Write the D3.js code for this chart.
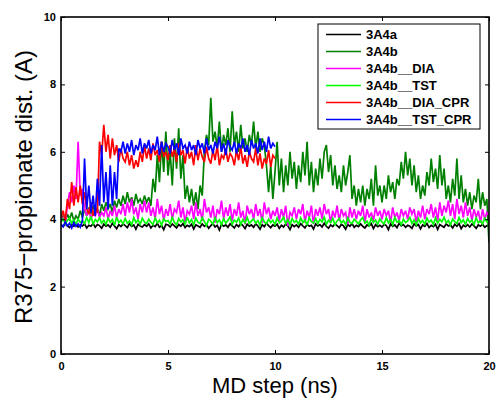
<!DOCTYPE html>
<html>
<head>
<meta charset="utf-8">
<script src="https://cdn.jsdelivr.net/npm/d3@7"></script>
<style>
  body { margin: 0; background: #fff; }
  text { font-family: "Liberation Sans", Arial, sans-serif; }
</style>
</head>
<body>
<div id="chart"></div>
<script>
// sampling of every series along the x axis (ns)
var step = 0.1;

var seriesNames = ['3A4a', '3A4b', '3A4b__DIA', '3A4b__TST', '3A4b__DIA_CPR', '3A4b__TST_CPR'];
var seriesColors = ['#000000', '#008000', '#ff00ff', '#00ff00', '#ff0000', '#0000ff'];

var xTicks = [0, 5, 10, 15, 20];
var yTicks = [0, 2, 4, 6, 8, 10];

var black3A4a = [
  3.82,3.78,3.86,3.80,3.75,3.84,3.79,3.88,3.77,3.83,
  3.80,3.86,3.74,3.82,3.79,3.87,3.76,3.84,3.81,3.73,
  3.85,3.79,3.83,3.76,3.88,3.80,3.72,3.84,3.78,3.86,
  3.81,3.75,3.87,3.79,3.83,3.70,3.85,3.80,3.77,3.84,
  3.79,3.86,3.74,3.82,3.78,3.88,3.76,3.81,3.69,3.85,
  3.83,3.77,3.86,3.80,3.74,3.84,3.79,3.87,3.75,3.82,
  3.78,3.85,3.71,3.83,3.80,3.76,3.86,3.79,3.84,3.73,
  3.81,3.87,3.77,3.82,3.68,3.85,3.79,3.83,3.76,3.86,
  3.80,3.74,3.84,3.78,3.87,3.81,3.72,3.85,3.79,3.83,
  3.76,3.86,3.80,3.70,3.84,3.78,3.88,3.81,3.75,3.83,
  3.79,3.85,3.73,3.82,3.77,3.86,3.80,3.69,3.84,3.78,
  3.83,3.76,3.87,3.80,3.74,3.85,3.79,3.82,3.71,3.86,
  3.80,3.84,3.77,3.88,3.79,3.73,3.83,3.78,3.86,3.81,
  3.75,3.85,3.80,3.70,3.84,3.79,3.87,3.76,3.82,3.78,
  3.86,3.79,3.74,3.83,3.80,3.87,3.72,3.84,3.78,3.82,
  3.77,3.85,3.81,3.69,3.86,3.79,3.83,3.75,3.88,3.80,
  3.84,3.76,3.82,3.79,3.73,3.86,3.80,3.84,3.71,3.83,
  3.79,3.87,3.75,3.82,3.78,3.85,3.70,3.84,3.80,3.76,
  3.86,3.80,3.83,3.74,3.85,3.79,3.87,3.72,3.82,3.78,
  3.84,3.77,3.86,3.80,3.73,3.83,3.79,3.85,3.76,3.81,
  3.80
];

var green3A4b = [
  3.95,4.10,3.90,4.15,4.00,4.20,3.95,4.10,4.00,4.25,
  4.05,4.30,4.10,4.35,4.15,4.40,4.20,4.30,4.10,4.45,
  4.25,4.50,4.30,4.45,4.20,4.55,4.35,4.60,4.40,4.70,
  4.45,4.80,4.50,4.65,4.40,4.75,4.50,4.60,4.45,4.70,
  4.50,4.65,4.40,5.20,4.80,5.90,5.10,6.30,5.40,6.60,
  5.30,6.00,5.00,6.40,5.50,6.70,5.20,5.90,4.60,5.00,
  4.50,4.90,4.40,4.80,4.30,5.00,4.70,6.00,6.50,6.20,
  7.60,6.30,6.60,6.10,6.90,6.00,6.50,6.20,6.70,6.00,
  7.20,6.20,6.60,6.00,6.80,6.10,6.40,6.00,6.50,6.20,
  6.90,6.10,6.60,6.00,6.40,6.20,5.60,4.80,5.60,4.60,
  5.40,6.30,5.00,5.80,4.80,5.60,5.00,6.00,5.20,5.70,
  4.90,5.60,5.10,6.00,5.30,6.30,5.00,5.70,4.80,5.50,
  5.00,5.80,5.20,6.00,6.20,5.40,5.90,5.00,5.60,4.90,
  5.30,4.80,5.60,5.00,5.40,5.90,4.60,5.00,4.40,4.90,
  4.50,5.00,4.40,4.90,4.60,5.20,4.40,5.60,4.70,5.00,
  4.50,5.00,4.60,5.30,4.80,5.10,4.60,5.20,5.00,5.70,
  5.20,6.00,5.30,5.80,5.00,5.60,4.80,5.30,4.60,5.00,
  4.70,5.40,5.00,5.80,5.10,5.50,4.90,5.90,5.00,5.50,
  4.60,5.00,4.50,5.20,4.70,5.80,4.60,5.30,4.50,4.90,
  4.40,4.80,4.30,4.70,4.50,5.20,4.30,4.80,4.40,4.60,
  3.30
];

var magentaDIA = [
  3.95,4.05,3.90,4.40,4.80,4.50,5.00,4.60,6.30,4.70,
  4.90,4.30,4.10,4.30,4.00,4.20,4.10,4.30,4.05,4.20,
  4.10,4.35,4.00,4.25,4.10,4.40,4.05,4.30,4.15,4.45,
  4.10,4.50,4.20,4.60,4.15,4.35,4.00,4.45,4.20,4.55,
  4.20,4.50,4.10,4.35,4.00,4.60,4.15,4.40,3.95,4.30,
  4.10,4.45,4.00,4.30,4.20,4.55,4.05,4.35,3.90,4.25,
  4.15,4.40,4.00,4.50,4.10,4.30,3.95,4.60,4.20,4.35,
  4.05,4.40,3.90,4.30,4.15,4.55,4.00,4.35,4.10,4.45,
  3.95,4.30,4.10,4.50,4.05,4.25,3.85,4.40,4.15,4.30,
  4.00,4.45,4.10,4.30,3.90,4.50,4.15,4.35,4.00,4.25,
  4.10,4.35,3.95,4.30,4.05,4.40,3.80,4.20,4.10,4.35,
  4.00,4.30,4.15,4.45,3.90,4.25,4.05,4.40,3.85,4.30,
  4.10,4.35,4.00,4.45,4.15,4.30,3.90,4.25,4.05,4.40,
  3.95,4.30,4.10,4.20,3.85,4.35,4.05,4.30,4.00,4.25,
  4.10,4.40,3.90,4.30,4.05,4.20,3.95,4.35,4.10,4.25,
  4.00,4.30,4.10,4.25,3.90,4.35,4.05,4.20,3.95,4.30,
  4.10,4.25,4.00,4.35,4.15,4.30,3.90,4.25,4.05,4.40,
  4.00,4.30,4.15,4.45,4.05,4.35,3.95,4.50,4.10,4.40,
  4.20,4.55,4.10,4.45,4.00,4.60,4.15,4.40,4.05,4.50,
  4.10,4.35,3.95,4.30,4.05,4.25,3.90,4.30,4.00,4.20,
  4.10
];

var limeTST = [
  3.92,4.01,3.86,3.96,4.03,3.88,3.98,3.85,4.00,3.91,
  3.95,3.87,4.05,3.90,4.08,3.86,3.99,3.92,4.04,3.88,
  3.97,3.84,4.03,3.91,3.99,3.82,4.06,3.90,3.97,3.86,
  4.02,3.88,3.95,3.83,4.05,3.90,3.98,3.85,4.03,3.92,
  3.87,4.00,3.91,3.84,4.04,3.89,3.97,3.82,4.01,3.93,
  3.96,3.86,4.05,3.90,3.83,4.02,3.92,3.98,3.85,4.06,
  3.89,3.99,3.84,4.03,3.91,3.87,4.05,3.93,3.81,4.00,
  3.94,3.86,4.04,3.90,3.98,3.83,4.02,3.88,3.96,4.07,
  3.85,3.97,3.91,4.03,3.84,3.99,3.89,4.05,3.87,3.95,
  4.01,3.88,3.96,3.82,4.04,3.92,3.86,4.00,3.90,3.97,
  3.84,4.03,3.89,3.95,4.06,3.87,3.99,3.83,4.02,3.91,
  3.96,3.85,4.04,3.90,3.98,3.82,4.05,3.93,3.88,4.01,
  3.87,3.99,3.92,4.06,3.85,3.97,3.90,4.03,3.84,3.95,
  4.02,3.89,3.96,3.83,4.04,3.91,3.87,4.00,3.93,3.86,
  3.98,4.05,3.88,3.94,3.82,4.03,3.90,3.97,3.85,4.01,
  3.92,3.86,4.04,3.89,3.99,3.84,4.06,3.91,3.96,3.83,
  4.00,3.90,3.95,4.05,3.87,3.98,3.83,4.02,3.89,3.96,
  3.85,4.03,3.91,3.97,3.84,4.04,3.88,3.99,3.92,4.06,
  3.89,3.96,3.83,4.01,3.93,3.87,4.05,3.90,3.98,3.85,
  4.02,3.91,3.97,3.84,4.04,3.89,3.95,3.86,4.03,3.92,
  3.95
];

var redDIACPR = [
  4.05,4.25,3.95,4.60,4.30,5.10,4.40,4.95,4.50,5.00,
  4.45,4.80,4.30,4.15,4.50,4.10,4.35,4.20,6.30,5.90,
  6.80,6.00,6.50,5.80,6.40,5.90,6.20,5.70,6.10,5.80,
  5.70,6.00,5.60,5.90,5.50,5.75,5.55,6.00,5.70,6.20,
  5.80,6.10,5.75,6.25,5.90,6.05,5.70,6.30,5.85,6.00,
  5.75,6.20,5.85,6.10,5.70,6.25,5.90,6.05,5.65,6.15,
  5.80,6.00,5.60,6.20,5.75,6.10,5.85,5.70,6.15,5.80,
  5.65,6.05,5.75,6.20,5.60,5.90,5.80,6.10,5.70,5.95,
  5.85,5.60,6.05,5.75,6.15,5.65,5.90,5.55,6.00,5.80,
  5.70,6.10,5.60,5.95,5.50,5.80,5.65,6.05,5.55,5.90,
  5.80
];

var blueTSTCPR = [
  3.85,3.78,3.92,3.80,3.88,3.74,3.90,3.79,3.86,3.76,
  3.95,5.80,4.30,5.00,4.20,4.70,4.10,5.20,4.40,6.20,
  4.50,5.40,4.30,5.60,4.40,5.40,4.60,6.10,6.00,6.30,
  5.95,6.25,6.00,6.35,5.90,6.20,6.05,6.40,5.95,6.25,
  6.10,6.35,5.95,6.20,6.05,6.45,5.90,6.30,6.00,6.25,
  6.15,5.95,6.35,6.05,6.25,5.90,6.40,6.10,6.20,5.95,
  6.30,6.05,6.20,5.90,6.35,6.10,6.25,5.95,6.40,6.05,
  6.20,5.95,6.30,6.10,6.45,6.00,6.25,5.90,6.35,6.15,
  6.05,6.30,5.95,6.25,6.10,6.40,6.00,6.20,5.90,6.35,
  6.10,6.25,5.95,6.40,6.05,6.30,6.00,6.45,6.10,6.25,
  6.15
];

var seriesValues = [black3A4a, green3A4b, magentaDIA, limeTST, redDIACPR, blueTSTCPR];

var width = 497,
    height = 398,
    margin = {top: 17, right: 8, bottom: 44, left: 61},
    plotRight = width - margin.right,
    plotBottom = height - margin.bottom;

var svg = d3.select('#chart')
  .append('svg')
  .attr('width', width)
  .attr('height', height);

var x = d3.scaleLinear().domain([0, 20]).range([margin.left, plotRight]);
var y = d3.scaleLinear().domain([0, 10]).range([plotBottom, margin.top]);

svg.append('clipPath')
  .attr('id', 'plotclip')
  .append('rect')
  .attr('x', margin.left)
  .attr('y', margin.top)
  .attr('width', plotRight - margin.left)
  .attr('height', plotBottom - margin.top);

var line = d3.line()
  .x(function(d, i) { return x(i * step); })
  .y(function(d) { return y(d); });

svg.append('g')
  .attr('clip-path', 'url(#plotclip)')
  .selectAll('path')
  .data(seriesValues)
  .enter()
  .append('path')
  .attr('d', line)
  .attr('fill', 'none')
  .attr('stroke', function(d, i) { return seriesColors[i]; })
  .attr('stroke-width', 1.7)
  .attr('stroke-linejoin', 'miter')
  .attr('stroke-miterlimit', 3);

// axes, MATLAB style: ticks pointing in, box all around
var tickFont = function(g) {
  g.select('.domain').remove();
  g.selectAll('line').attr('stroke', '#000').attr('stroke-width', 1);
  g.selectAll('text')
    .attr('fill', '#000')
    .style('font-size', '11px')
    .style('font-weight', 'bold')
    .style('font-family', '"Liberation Sans", Arial, sans-serif');
};

svg.append('g')
  .attr('transform', 'translate(0,' + plotBottom + ')')
  .call(d3.axisBottom(x).tickValues(xTicks).tickFormat(d3.format('d'))
    .tickSizeInner(-4).tickSizeOuter(0).tickPadding(8))
  .call(tickFont);

svg.append('g')
  .attr('transform', 'translate(' + margin.left + ',0)')
  .call(d3.axisLeft(y).tickValues(yTicks).tickFormat(d3.format('d'))
    .tickSizeInner(-4).tickSizeOuter(0).tickPadding(5))
  .call(tickFont);

svg.append('g')
  .attr('transform', 'translate(0,' + margin.top + ')')
  .call(d3.axisTop(x).tickValues(xTicks).tickFormat('').tickSizeInner(-4).tickSizeOuter(0))
  .call(tickFont);

svg.append('g')
  .attr('transform', 'translate(' + plotRight + ',0)')
  .call(d3.axisRight(y).tickValues(yTicks).tickFormat('').tickSizeInner(-4).tickSizeOuter(0))
  .call(tickFont);

svg.append('rect')
  .attr('x', margin.left)
  .attr('y', margin.top)
  .attr('width', plotRight - margin.left)
  .attr('height', plotBottom - margin.top)
  .attr('fill', 'none')
  .attr('stroke', '#000')
  .attr('stroke-width', 1.6);

// axis titles
svg.append('text')
  .attr('x', 275)
  .attr('y', 393)
  .attr('text-anchor', 'middle')
  .style('font-size', '22px')
  .text('MD step (ns)');

svg.append('text')
  .attr('transform', 'translate(32,187) rotate(-90)')
  .attr('text-anchor', 'middle')
  .style('font-size', '24px')
  .text('R375\u2212propionate dist. (A)');

// legend
var legend = svg.append('g').attr('transform', 'translate(318,24)');

legend.append('rect')
  .attr('width', 162)
  .attr('height', 105)
  .attr('fill', '#fff')
  .attr('stroke', '#000')
  .attr('stroke-width', 1);

var entry = legend.selectAll('g.entry')
  .data(seriesNames)
  .enter()
  .append('g')
  .attr('class', 'entry')
  .attr('transform', function(d, i) { return 'translate(0,' + (10.5 + i * 17) + ')'; });

entry.append('line')
  .attr('x1', 8)
  .attr('x2', 43)
  .attr('stroke', function(d, i) { return seriesColors[i]; })
  .attr('stroke-width', 1.5);

entry.append('text')
  .attr('x', 48)
  .attr('y', 4.5)
  .style('font-size', '13px')
  .style('font-weight', 'bold')
  .text(function(d) { return d; });
</script>
</body>
</html>
